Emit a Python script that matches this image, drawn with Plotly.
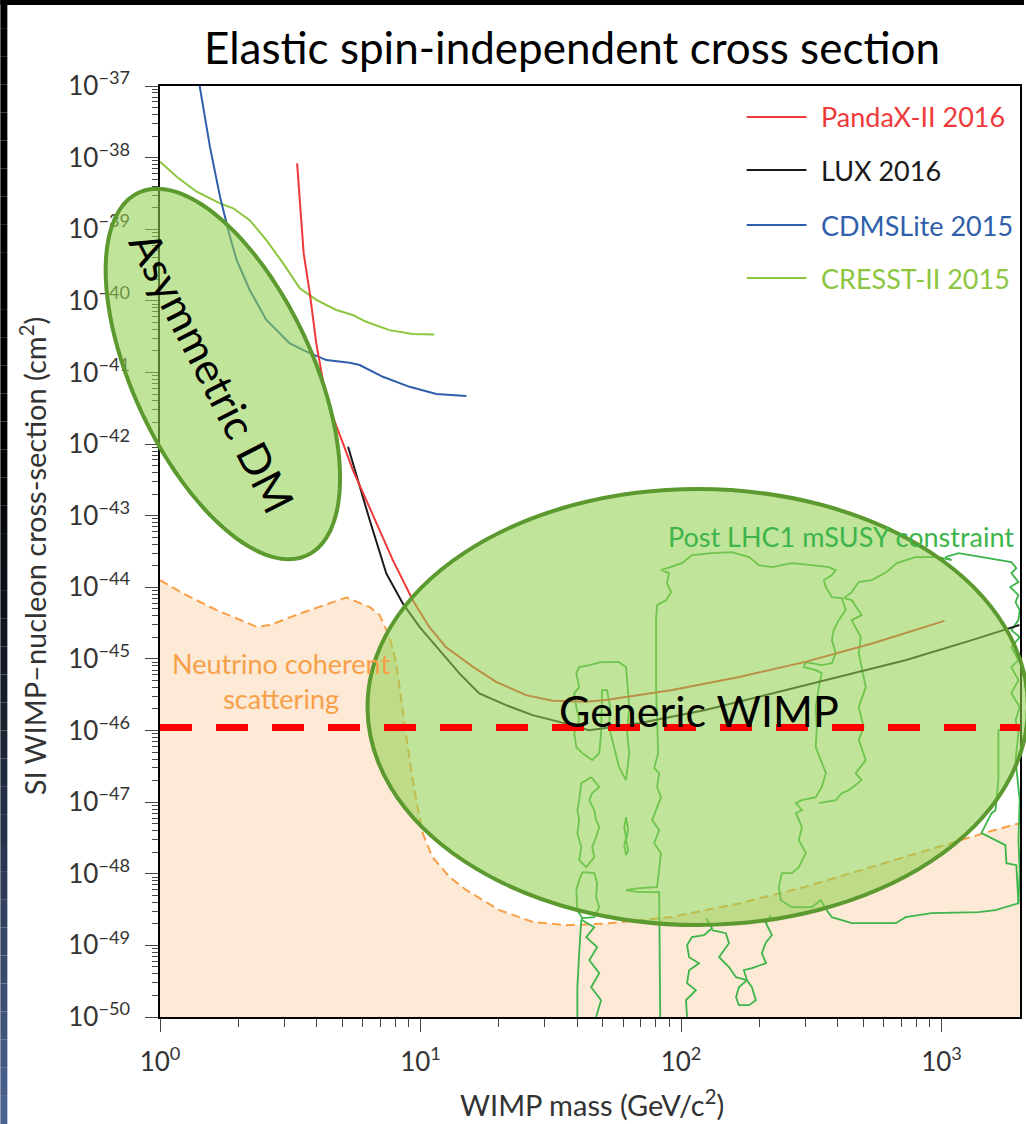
import numpy as np
import plotly.graph_objects as go

# ---------------- data ----------------
pandax_mass = [3.36, 3.46, 3.56, 3.76, 3.98, 4.22, 4.48, 5.04, 5.50, 6.19, 6.97, 7.83, 9.34, 10.8,
               12.5, 15.9, 19.5, 25.4, 32.1, 43.1, 51.5, 92.6, 167, 300, 541, 1026]
pandax_sigma = [8.3e-39, 1.67e-39, 4.6e-40, 1.27e-40, 2.55e-41, 7.8e-42, 3.15e-42, 1.02e-42, 4.34e-43,
                1.65e-43, 6.3e-44, 2.4e-44, 6.6e-45, 2.8e-45, 1.47e-45, 7.76e-46, 4.79e-46, 3.12e-46,
                2.6e-46, 2.52e-46, 2.66e-46, 3.67e-46, 5.6e-46, 9.1e-46, 1.64e-45, 3.4e-45]

lux_mass = [5.27, 5.84, 6.38, 7.39, 8.55, 9.91, 11.8, 14.1, 16.8, 21.3, 26.9, 34.1, 44.4, 69.0,
            124, 224, 403, 726, 1307, 1990]
lux_sigma = [9.2e-43, 2.53e-43, 8.7e-44, 1.56e-44, 5.96e-45, 2.8e-45, 1.33e-45, 6.27e-46, 3.3e-46,
             2.26e-46, 1.64e-46, 1.32e-46, 1.01e-46, 1.26e-46, 1.93e-46, 3.3e-46, 5.6e-46, 9.6e-46,
             1.83e-45, 2.97e-45]

cdms_mass = [1.42, 1.555, 1.70, 1.84, 1.97, 2.21, 2.56, 3.15, 3.65, 4.35, 5.35, 5.84, 7.17, 9.08, 11.5, 15.0]
cdms_sigma = [1.0e-37, 1.41e-38, 2.84e-39, 8.8e-40, 3.7e-40, 1.42e-40, 5.4e-41, 2.55e-41, 1.95e-41,
              1.49e-41, 1.37e-41, 1.27e-41, 8.7e-42, 6.3e-42, 5.0e-42, 4.7e-42]

cresst_mass = [1.0, 1.159, 1.383, 1.70, 1.91, 2.21, 2.56, 2.97, 3.44, 3.98, 4.75, 5.50, 6.19, 7.60, 9.34, 11.3]
cresst_sigma = [8.77e-39, 5.4e-39, 3.34e-39, 2.30e-39, 1.96e-39, 1.34e-39, 7.06e-40, 3.34e-40, 1.50e-40,
                1.03e-40, 7.45e-41, 6.34e-41, 5.1e-41, 3.9e-41, 3.44e-41, 3.40e-41]

nu_mass = [1.0, 1.228, 1.65, 2.35, 2.64, 3.44, 5.19, 6.38, 6.97, 7.60, 8.07, 8.55, 9.08, 9.63, 10.2,
           11.1, 12.9, 15.0, 20.1, 26.9, 36.1, 51.5, 92.6, 167, 300, 541, 975, 1514, 2000]
nu_sigma = [1.26e-44, 8.2e-45, 4.8e-45, 2.81e-45, 2.97e-45, 4.3e-45, 7.2e-45, 5.3e-45, 4.1e-45, 2.04e-45,
            8.65e-46, 1.93e-46, 3.86e-47, 1.07e-47, 3.66e-48, 1.72e-48, 9.06e-49, 5.9e-49, 3.1e-49,
            2.13e-49, 1.91e-49, 2.02e-49, 2.5e-49, 3.85e-49, 6.6e-49, 1.25e-48, 2.38e-48, 3.86e-48, 5.1e-48]

threshold_sigma = 1.1e-46

# Post-LHC1 mSUSY contours, as log10(mass/GeV) and log10(sigma/cm^2)
c1_lm = [1.789, 1.801, 1.793, 1.801, 1.793, 1.789, 1.762, 1.693, 1.648, 1.609, 1.598, 1.609, 1.590, 1.598,
         1.609, 1.590, 1.598, 1.621, 1.659, 1.686, 1.693, 1.697, 1.697, 1.716, 1.728, 1.724, 1.743, 1.762, 1.789]
c1_ls = [-46.693, -46.316, -46.036, -45.673, -45.296, -45.115, -45.045, -45.045, -45.087, -45.115, -45.198,
         -45.394, -45.478, -45.673, -45.855, -46.036, -46.232, -46.316, -46.413, -46.316, -46.036, -45.673,
         -45.436, -45.436, -45.673, -45.953, -46.232, -46.511, -46.693]
c2_lm = [1.655, 1.686, 1.659, 1.648, 1.667, 1.674, 1.686, 1.674, 1.659, 1.667, 1.636, 1.609, 1.617, 1.602,
         1.609, 1.602, 1.609, 1.617, 1.655]
c2_ls = [-46.651, -46.791, -46.874, -46.972, -47.112, -47.251, -47.349, -47.489, -47.628, -47.768, -47.908,
         -47.810, -47.628, -47.433, -47.251, -47.112, -46.972, -46.735, -46.651]
c3_lm = [1.621, 1.667, 1.678, 1.674, 1.686, 1.667, 1.621, 1.602, 1.598, 1.609, 1.621]
c3_ls = [-47.978, -47.992, -48.131, -48.327, -48.466, -48.606, -48.620, -48.508, -48.229, -48.089, -47.978]
c4_lm = [1.621, 1.617, 1.609, 1.602, 1.602]
c4_ls = [-48.620, -48.648, -49.109, -49.584, -50.0]
c5_lm = [1.621, 1.667, 1.636, 1.678, 1.648, 1.686, 1.655, 1.693, 1.674]
c5_ls = [-48.648, -48.746, -48.885, -49.025, -49.207, -49.388, -49.584, -49.765, -50.0]
c6_lm = [1.789, 1.797, 1.789, 1.797, 1.789, 1.782, 1.789, 1.782, 1.789]
c6_ls = [-47.209, -47.391, -47.531, -47.670, -47.740, -47.601, -47.489, -47.349, -47.209]

c7_lm = ([1.920, 1.916, 1.916, 1.839, 1.789, 1.839, 1.908, 1.923, 1.897, 1.916, 1.889, 1.904, 1.923, 1.908,
          1.916, 1.897, 1.912, 1.908, 1.904, 1.904, 1.904, 1.908, 1.943, 1.962, 1.946, 1.954, 1.923]
         + [2.004, 2.042, 2.119, 2.195, 2.261, 2.299, 2.349, 2.425, 2.502, 2.567, 2.594, 2.579, 2.548, 2.556,
            2.579, 2.617, 2.632, 2.605, 2.586, 2.579, 2.594, 2.579, 2.540, 2.479, 2.471, 2.517, 2.540, 2.529,
            2.517, 2.521, 2.517, 2.536, 2.556, 2.540, 2.517, 2.464, 2.441, 2.464, 2.441, 2.464, 2.452, 2.479,
            2.452, 2.425, 2.387, 2.375, 2.383, 2.425, 2.502, 2.536]
         + [2.559, 2.579, 2.655, 2.824, 2.862, 2.962, 3.142, 3.207, 3.295]
         + [3.300, 3.295, 3.300, 3.284, 3.295, 3.284, 3.300, 3.268, 3.295, 3.268, 3.295, 3.268, 3.300, 3.268,
            3.295, 3.300, 3.284, 3.295, 3.264, 3.295, 3.268, 3.287, 3.268]
         + [3.115, 3.065, 3.015, 3.038, 2.989, 2.900, 2.828, 2.789, 2.732, 2.682, 2.655, 2.625])
c7_ls = ([-50.0, -48.648, -48.257, -48.257, -48.229, -48.201, -48.187, -47.712, -47.573, -47.391, -47.251,
          -47.112, -46.930, -46.791, -46.595, -46.525, -46.316, -45.855, -45.394, -44.919, -44.458, -44.249,
          -44.179, -44.067, -43.941, -43.802, -43.760]
         + [-43.662, -43.550, -43.522, -43.508, -43.578, -43.690, -43.718, -43.662, -43.690, -43.718, -43.760,
            -43.830, -43.899, -43.997, -44.137, -44.151, -44.318, -44.458, -44.598, -44.737, -44.919, -45.059,
            -45.087, -45.045, -45.115, -45.156, -45.198, -45.394, -45.673, -45.953, -46.232, -46.413, -46.595,
            -46.791, -46.930, -46.972, -47.014, -47.112, -47.154, -47.349, -47.531, -47.712, -47.908, -47.992,
            -47.992, -48.187, -48.369, -48.466, -48.466, -48.369]
         + [-48.508, -48.606, -48.690, -48.690, -48.606, -48.550, -48.536, -48.508, -48.411]
         + [-47.950, -47.531, -46.972, -46.413, -46.036, -45.855, -45.673, -45.478, -45.296, -45.115, -45.017,
            -44.835, -44.696, -44.598, -44.458, -44.318, -44.207, -44.109, -43.997, -43.927, -43.802, -43.732,
            -43.648]
         + [-43.550, -43.522, -43.578, -43.620, -43.578, -43.578, -43.662, -43.788, -43.899, -43.927, -44.067,
            -44.151])
c8_lm = [2.625, 2.655, 2.693, 2.655, 2.690, 2.682, 2.709, 2.682, 2.701, 2.682, 2.709, 2.670, 2.693, 2.644,
         2.617, 2.594, 2.529]
c8_ls = [-44.151, -44.179, -44.388, -44.458, -44.696, -44.919, -45.394, -45.673, -45.953, -46.134, -46.413,
         -46.595, -46.693, -46.832, -46.874, -46.972, -47.014]
c9_lm = [3.299, 3.218, 3.218, 3.207, 3.192, 3.153, 3.169, 3.245, 3.249, 3.287, 3.295]
c9_ls = [-45.966, -45.994, -46.693, -47.112, -47.154, -47.433, -47.461, -47.601, -47.852, -47.880, -48.411]
c10_lm = [2.096, 2.119, 2.088, 2.042, 2.023, 2.031, 2.069, 2.031, 2.023, 2.057, 2.019, 2.023]
c10_ls = [-48.620, -48.760, -48.858, -48.885, -48.997, -49.165, -49.249, -49.346, -49.528, -49.626, -49.765, -50.0]
c11_lm = [2.119, 2.172, 2.184, 2.146, 2.184, 2.211, 2.253, 2.272, 2.287, 2.261, 2.222, 2.211, 2.222, 2.253]
c11_ls = [-48.788, -48.830, -48.969, -49.165, -49.304, -49.444, -49.486, -49.584, -49.765, -49.835, -49.835,
          -49.723, -49.584, -49.486]
c12_lm = [2.345, 2.326, 2.349, 2.326, 2.310, 2.326, 2.272, 2.241, 2.253]
c12_ls = [-48.578, -48.690, -48.858, -48.955, -49.109, -49.249, -49.318, -49.346, -49.486]

lhc_contours = [(c1_lm, c1_ls), (c2_lm, c2_ls), (c3_lm, c3_ls), (c4_lm, c4_ls), (c5_lm, c5_ls),
                (c6_lm, c6_ls), (c7_lm, c7_ls), (c8_lm, c8_ls), (c9_lm, c9_ls), (c10_lm, c10_ls),
                (c11_lm, c11_ls), (c12_lm, c12_ls)]

legend_names = ["PandaX-II 2016", "LUX 2016", "CDMSLite 2015", "CRESST-II 2015"]
legend_colors = ["#ee3a3a", "#1a1a1a", "#2f5faa", "#8cc63f"]

x_tickvals = [1, 10, 100, 1000]
x_ticktext = ["10<sup>0</sup>", "10<sup>1</sup>", "10<sup>2</sup>", "10<sup>3</sup>"]
y_exps = list(range(-50, -36))
y_tickvals = [10.0 ** e for e in y_exps]
y_ticktext = ["10<sup>\u2212%d</sup>" % (-e) for e in y_exps]
x_minor = [k * 10 ** d for d in range(0, 4) for k in range(2, 10) if k * 10 ** d < 2000]
y_minor = [k * 10.0 ** e for e in range(-50, -37) for k in range(2, 10)]

# ---------------- layout geometry (pixels) ----------------
W, H = 1026, 1124
ML, MR, MT, MB = 160, 4, 86, 107
PL, PR, PT, PB = ML, W - MR, MT, H - MB


def P(x, y):
    """pixel position -> paper coordinates"""
    return (x - PL) / (PR - PL), (PB - y) / (PB - PT)


FONT = "Lato"
fig = go.Figure()

# neutrino floor fill + dashed boundary
fig.add_trace(go.Scatter(x=[nu_mass[0]] + nu_mass + [nu_mass[-1]],
                         y=[1e-50] + nu_sigma + [1e-50], mode="lines", fill="toself",
                         fillcolor="#fce9d6", line=dict(width=0), hoverinfo="skip"))
fig.add_trace(go.Scatter(x=nu_mass, y=nu_sigma, mode="lines",
                         line=dict(color="#f7a048", width=2, dash="9px,5px")))

# LHC contours
for lm, ls in lhc_contours:
    assert len(lm) == len(ls)
    fig.add_trace(go.Scatter(x=[10 ** v for v in lm], y=[10 ** v for v in ls], mode="lines",
                             line=dict(color="#3db54a", width=1.8)))

# experimental limits
for xs, ys, col in [(cresst_mass, cresst_sigma, legend_colors[3]),
                    (cdms_mass, cdms_sigma, legend_colors[2]),
                    (lux_mass, lux_sigma, legend_colors[1]),
                    (pandax_mass, pandax_sigma, legend_colors[0])]:
    fig.add_trace(go.Scatter(x=xs, y=ys, mode="lines", line=dict(color=col, width=2)))

shapes = []
# slide background: black top/left border with a dark-to-blue gradient on the left strip
x0p, _ = P(0, 0)
x7p, _ = P(7, 0)
x1p, _ = P(W, 0)
_, ytop = P(0, 0)
_, y5 = P(0, 5)
shapes.append(dict(type="rect", xref="paper", yref="paper", x0=x0p, x1=x1p, y0=y5, y1=ytop,
                   fillcolor="black", line=dict(width=0), layer="below"))
nstrip = 40
ys_px = np.linspace(0, H, nstrip + 1)
for i in range(nstrip):
    yc = (ys_px[i] + ys_px[i + 1]) / 2
    t = max(0.0, (yc - 420) / (H - 420))
    t = t ** 1.3
    col = "rgb(%d,%d,%d)" % (int(78 * t), int(102 * t), int(150 * t))
    _, ya = P(0, ys_px[i])
    _, yb = P(0, ys_px[i + 1])
    shapes.append(dict(type="rect", xref="paper", yref="paper", x0=x0p, x1=x7p, y0=yb, y1=ya,
                       fillcolor=col, line=dict(width=0), layer="below"))


# overlay ellipses
def ellipse_path(cx, cy, a, b, ang_deg, n=180):
    t = np.linspace(0, 2 * np.pi, n, endpoint=False)
    th = np.radians(ang_deg)
    xs = cx + a * np.cos(t) * np.cos(th) - b * np.sin(t) * np.sin(th)
    ys = cy + a * np.cos(t) * np.sin(th) + b * np.sin(t) * np.cos(th)
    pts = []
    for x, y in zip(xs, ys):
        u, v = P(x, y)
        pts.append("%.5f,%.5f" % (u, v))
    return "M " + " L ".join(pts) + " Z"


ELL_FILL = "rgba(146,208,80,0.58)"
ELL_LINE = "#5c9a30"
shapes.append(dict(type="path", xref="paper", yref="paper", path=ellipse_path(223, 374, 200, 90, 65),
                   fillcolor=ELL_FILL, line=dict(color=ELL_LINE, width=4), layer="above"))
gx0, gy0 = P(699 - 331, 707 + 218)
gx1, gy1 = P(699 + 331, 707 - 218)
shapes.append(dict(type="circle", xref="paper", yref="paper", x0=gx0, x1=gx1, y0=gy0, y1=gy1,
                   fillcolor=ELL_FILL, line=dict(color=ELL_LINE, width=4), layer="above"))

# threshold line
shapes.append(dict(type="line", xref="x", yref="y", x0=1, x1=2000, y0=threshold_sigma, y1=threshold_sigma,
                   line=dict(color="#ff0000", width=7, dash="32px,24px"), layer="above"))

# legend sample lines
leg_y = [117, 170, 225, 278]
for yy, col in zip(leg_y, legend_colors):
    a0, b0 = P(748, yy)
    a1, _ = P(808, yy)
    shapes.append(dict(type="line", xref="paper", yref="paper", x0=a0, x1=a1, y0=b0, y1=b0,
                       line=dict(color=col, width=2), layer="above"))

annotations = []


def add_text(text, x, y, size, color="black", xanchor="center", angle=0, family=FONT):
    u, v = P(x, y)
    annotations.append(dict(text=text, x=u, y=v, xref="paper", yref="paper", showarrow=False,
                            xanchor=xanchor, yanchor="middle", textangle=angle,
                            font=dict(family=family, size=size, color=color)))


add_text("Elastic spin-independent cross section", 573, 47, 44)
for yy, name, col in zip(leg_y, legend_names, legend_colors):
    add_text(name, 821, yy, 27, color=col, xanchor="left")
add_text("Neutrino coherent<br>scattering", 281, 681, 27, color="#f7a048")
add_text("Post LHC1 mSUSY constraint", 667, 536, 27, color="#3db54a", xanchor="left")
add_text("Generic WIMP", 700, 710, 43)
add_text("Asymmetric DM", 212, 372, 43, angle=63)
add_text("SI WIMP\u2013nucleon cross-section (cm<sup>2</sup>)", 33, 556, 29, color="#333333", angle=-90)
add_text("WIMP mass (GeV/c<sup>2</sup>)", 593, 1103, 29, color="#333333")

fig.update_layout(
    width=W, height=H, margin=dict(l=ML, r=MR, t=MT, b=MB, pad=0),
    paper_bgcolor="white", plot_bgcolor="white", showlegend=False,
    shapes=shapes, annotations=annotations,
    xaxis=dict(type="log", range=[0, np.log10(2000)], showgrid=False, zeroline=False,
               showline=True, linecolor="black", linewidth=1.5, mirror=True,
               ticks="outside", ticklen=13, tickwidth=1.3, tickcolor="#444",
               tickmode="array", tickvals=x_tickvals, ticktext=x_ticktext, ticklabelstandoff=8,
               tickfont=dict(family=FONT, size=26, color="#333333"),
               minor=dict(tickmode="array", tickvals=x_minor, ticks="outside", ticklen=8,
                          tickwidth=1.1, tickcolor="#444", showgrid=False)),
    yaxis=dict(type="log", range=[-50, -37], showgrid=False, zeroline=False,
               showline=True, linecolor="black", linewidth=1.5, mirror=True,
               ticks="outside", ticklen=13, tickwidth=1.3, tickcolor="#444",
               tickmode="array", tickvals=y_tickvals, ticktext=y_ticktext, ticklabelstandoff=10,
               tickfont=dict(family=FONT, size=26, color="#333333"),
               minor=dict(tickmode="array", tickvals=y_minor, ticks="outside", ticklen=6,
                          tickwidth=1.1, tickcolor="#444", showgrid=False)),
)

fig.write_html("out.html")
